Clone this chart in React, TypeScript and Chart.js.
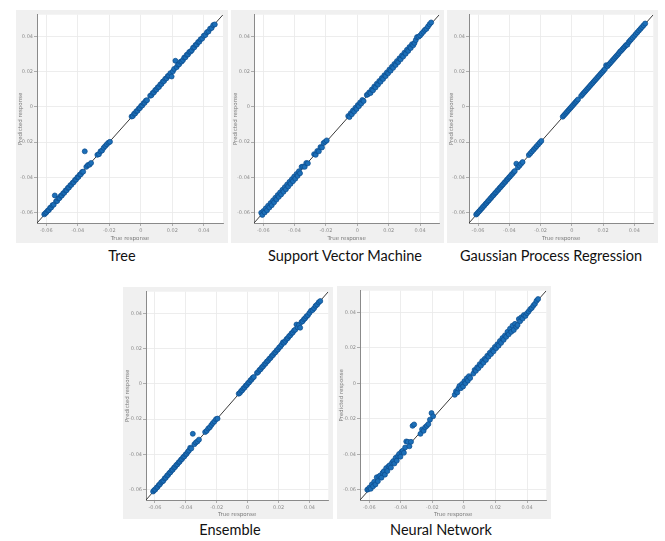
import React, { useEffect, useRef } from "react";
import { Chart, registerables } from "chart.js";
Chart.register(...registerables);

// ---------- data ----------
const TRUE_RESPONSE = [
  -0.0612,-0.0605,-0.0598,-0.0590,-0.0583,-0.0575,-0.0568,-0.0560,-0.0552,-0.0545,
  -0.0537,-0.0530,-0.0522,-0.0515,-0.0507,-0.0500,-0.0492,-0.0485,-0.0477,-0.0470,
  -0.0462,-0.0455,-0.0447,-0.0440,-0.0432,-0.0425,-0.0417,-0.0410,-0.0402,-0.0395,
  -0.0387,-0.0380,-0.0372,-0.0365,-0.0355,-0.0345,-0.0335,-0.0325,-0.0315,-0.0275,
  -0.0265,-0.0255,-0.0245,-0.0235,-0.0225,-0.0215,-0.0205,-0.0195,-0.0058,-0.0050,
  -0.0042,-0.0035,-0.0028,-0.0020,-0.0012,-0.0005,0.0003,0.0010,0.0018,0.0025,
  0.0032,0.0040,0.0060,0.0068,0.0076,0.0084,0.0092,0.0100,0.0108,0.0116,
  0.0124,0.0132,0.0140,0.0148,0.0156,0.0164,0.0172,0.0180,0.0188,0.0196,
  0.0204,0.0212,0.0220,0.0228,0.0236,0.0244,0.0252,0.0260,0.0268,0.0276,
  0.0284,0.0292,0.0300,0.0308,0.0316,0.0324,0.0332,0.0340,0.0348,0.0356,
  0.0364,0.0372,0.0380,0.0390,0.0400,0.0410,0.0420,0.0430,0.0440,0.0450,
  0.0460,0.0470,
];

const PRED_TREE = [
  -0.0609,-0.0603,-0.0597,-0.0588,-0.0585,-0.0572,-0.0570,-0.0557,-0.0554,-0.0502,
  -0.0535,-0.0533,-0.0519,-0.0517,-0.0504,-0.0502,-0.0490,-0.0487,-0.0474,-0.0472,
  -0.0459,-0.0457,-0.0444,-0.0442,-0.0430,-0.0427,-0.0414,-0.0412,-0.0399,-0.0397,
  -0.0384,-0.0382,-0.0369,-0.0367,-0.0252,-0.0340,-0.0330,-0.0328,-0.0318,-0.0272,
  -0.0268,-0.0252,-0.0247,-0.0232,-0.0222,-0.0212,-0.0203,-0.0198,-0.0055,-0.0052,
  -0.0039,-0.0037,-0.0025,-0.0022,-0.0009,-0.0007,0.0006,0.0008,0.0021,0.0023,
  0.0035,0.0038,0.0063,0.0066,0.0079,0.0082,0.0095,0.0098,0.0111,0.0113,
  0.0127,0.0130,0.0143,0.0146,0.0159,0.0162,0.0175,0.0177,0.0191,0.0172,
  0.0201,0.0215,0.0261,0.0225,0.0239,0.0241,0.0255,0.0257,0.0265,0.0279,
  0.0281,0.0295,0.0297,0.0311,0.0313,0.0320,0.0335,0.0337,0.0351,0.0353,
  0.0367,0.0369,0.0383,0.0387,0.0403,0.0407,0.0423,0.0427,0.0443,0.0447,
  0.0463,0.0467,
];

const PRED_SVM = [
  -0.0600,-0.0612,-0.0590,-0.0598,-0.0575,-0.0586,-0.0560,-0.0570,-0.0545,-0.0557,
  -0.0530,-0.0541,-0.0515,-0.0525,-0.0500,-0.0510,-0.0485,-0.0496,-0.0470,-0.0481,
  -0.0455,-0.0467,-0.0440,-0.0451,-0.0425,-0.0436,-0.0410,-0.0421,-0.0395,-0.0407,
  -0.0380,-0.0391,-0.0365,-0.0376,-0.0340,-0.0338,-0.0340,-0.0318,-0.0320,-0.0268,
  -0.0272,-0.0250,-0.0252,-0.0228,-0.0230,-0.0205,-0.0198,-0.0190,-0.0052,-0.0058,
  -0.0036,-0.0042,-0.0021,-0.0027,-0.0005,-0.0012,0.0010,0.0004,0.0025,0.0019,
  0.0039,0.0033,0.0067,0.0072,0.0082,0.0078,0.0098,0.0094,0.0115,0.0110,
  0.0131,0.0126,0.0147,0.0142,0.0163,0.0158,0.0179,0.0174,0.0195,0.0190,
  0.0211,0.0205,0.0227,0.0221,0.0243,0.0237,0.0259,0.0253,0.0275,0.0269,
  0.0291,0.0285,0.0307,0.0301,0.0323,0.0317,0.0339,0.0333,0.0355,0.0349,
  0.0362,0.0378,0.0395,0.0397,0.0404,0.0415,0.0425,0.0436,0.0442,0.0455,
  0.0468,0.0478,
];

const PRED_GPR = [
  -0.0610,-0.0604,-0.0596,-0.0589,-0.0581,-0.0574,-0.0566,-0.0559,-0.0550,-0.0544,
  -0.0535,-0.0529,-0.0520,-0.0514,-0.0505,-0.0499,-0.0490,-0.0484,-0.0475,-0.0469,
  -0.0460,-0.0454,-0.0445,-0.0439,-0.0430,-0.0424,-0.0415,-0.0409,-0.0400,-0.0394,
  -0.0385,-0.0379,-0.0370,-0.0364,-0.0322,-0.0343,-0.0333,-0.0323,-0.0313,-0.0273,
  -0.0263,-0.0253,-0.0243,-0.0233,-0.0223,-0.0213,-0.0203,-0.0193,-0.0056,-0.0048,
  -0.0040,-0.0033,-0.0026,-0.0018,-0.0010,-0.0003,0.0005,0.0012,0.0020,0.0027,
  0.0034,0.0042,0.0062,0.0070,0.0078,0.0086,0.0094,0.0102,0.0110,0.0118,
  0.0126,0.0134,0.0142,0.0150,0.0158,0.0166,0.0174,0.0182,0.0190,0.0198,
  0.0206,0.0214,0.0236,0.0230,0.0238,0.0246,0.0254,0.0262,0.0270,0.0278,
  0.0286,0.0294,0.0302,0.0312,0.0318,0.0326,0.0334,0.0342,0.0350,0.0352,
  0.0366,0.0374,0.0382,0.0392,0.0402,0.0412,0.0422,0.0432,0.0442,0.0452,
  0.0462,0.0472,
];

const PRED_ENSEMBLE = [
  -0.0610,-0.0602,-0.0599,-0.0588,-0.0584,-0.0573,-0.0569,-0.0558,-0.0553,-0.0548,
  -0.0535,-0.0532,-0.0520,-0.0516,-0.0505,-0.0501,-0.0490,-0.0486,-0.0475,-0.0471,
  -0.0460,-0.0456,-0.0445,-0.0441,-0.0430,-0.0426,-0.0415,-0.0411,-0.0400,-0.0396,
  -0.0385,-0.0378,-0.0362,-0.0366,-0.0283,-0.0342,-0.0332,-0.0326,-0.0316,-0.0273,
  -0.0266,-0.0253,-0.0246,-0.0233,-0.0222,-0.0213,-0.0200,-0.0197,-0.0056,-0.0051,
  -0.0040,-0.0036,-0.0026,-0.0021,-0.0010,-0.0006,0.0005,0.0009,0.0020,0.0024,
  0.0034,0.0039,0.0062,0.0067,0.0078,0.0083,0.0094,0.0099,0.0110,0.0115,
  0.0126,0.0131,0.0142,0.0147,0.0158,0.0163,0.0174,0.0179,0.0190,0.0195,
  0.0206,0.0211,0.0222,0.0235,0.0233,0.0243,0.0254,0.0259,0.0270,0.0275,
  0.0286,0.0291,0.0302,0.0307,0.0336,0.0320,0.0334,0.0318,0.0350,0.0355,
  0.0366,0.0371,0.0382,0.0389,0.0402,0.0414,0.0418,0.0428,0.0442,0.0449,
  0.0462,0.0469,
];

const PRED_NN = [
  -0.0600,-0.0596,-0.0588,-0.0595,-0.0570,-0.0581,-0.0555,-0.0570,-0.0530,-0.0552,
  -0.0525,-0.0520,-0.0532,-0.0505,-0.0496,-0.0515,-0.0478,-0.0495,-0.0468,-0.0462,
  -0.0475,-0.0448,-0.0438,-0.0452,-0.0420,-0.0436,-0.0410,-0.0398,-0.0414,-0.0386,
  -0.0380,-0.0392,-0.0362,-0.0328,-0.0330,-0.0355,-0.0330,-0.0240,-0.0232,-0.0285,
  -0.0260,-0.0268,-0.0248,-0.0240,-0.0230,-0.0205,-0.0168,-0.0186,-0.0065,-0.0045,
  -0.0052,-0.0030,-0.0015,-0.0028,-0.0004,-0.0018,0.0012,0.0000,0.0028,0.0015,
  0.0040,0.0030,0.0055,0.0075,0.0070,0.0090,0.0085,0.0108,0.0100,0.0125,
  0.0116,0.0138,0.0132,0.0155,0.0150,0.0172,0.0165,0.0188,0.0180,0.0205,
  0.0198,0.0220,0.0212,0.0238,0.0228,0.0255,0.0245,0.0270,0.0262,0.0290,
  0.0276,0.0308,0.0290,0.0325,0.0300,0.0335,0.0318,0.0328,0.0362,0.0350,
  0.0372,0.0365,0.0385,0.0380,0.0395,0.0405,0.0418,0.0425,0.0438,0.0448,
  0.0465,0.0475,
];

const AXIS_LIMITS = [-0.0658, 0.0522];
const TICK_VALUES = [-0.06, -0.04, -0.02, 0, 0.02, 0.04];
const TICK_LABELS = ["-0.06", "-0.04", "-0.02", "0", "0.02", "0.04"];
const X_TITLE = "True response";
const Y_TITLE = "Predicted response";
const MODEL_NAMES = ["Tree", "Support Vector Machine", "Gaussian Process Regression", "Ensemble", "Neural Network"];
const MODEL_PREDICTIONS = [PRED_TREE, PRED_SVM, PRED_GPR, PRED_ENSEMBLE, PRED_NN];

// ---------- layout ----------
type Layout = {
  left: number; top: number; width: number; height: number;
  yw: number; xh: number; padTop: number; padRight: number;
  capX: number; capY: number;
};
const LAYOUTS: Layout[] = [
  { left: 16, top: 10, width: 212, height: 233, yw: 21, xh: 20, padTop: 2, padRight: 5, capX: 122, capY: 256 },
  { left: 231, top: 10, width: 213, height: 233, yw: 23, xh: 20, padTop: 2, padRight: 3, capX: 345, capY: 256 },
  { left: 447, top: 10, width: 211, height: 233, yw: 22, xh: 20, padTop: 2, padRight: 3, capX: 551, capY: 256 },
  { left: 123, top: 287, width: 210, height: 232, yw: 23, xh: 19, padTop: 2, padRight: 3, capX: 230, capY: 530 },
  { left: 337, top: 286, width: 214, height: 233, yw: 23, xh: 19, padTop: 2, padRight: 4, capX: 441, capY: 530 },
];

const plotBackground = {
  id: "plotBackground",
  beforeDraw(chart: any) {
    const { ctx, chartArea: a } = chart;
    ctx.save();
    ctx.fillStyle = "#ffffff";
    ctx.fillRect(a.left, a.top, a.right - a.left, a.bottom - a.top);
    ctx.restore();
  },
};

function axisOptions(isX: boolean, layout: Layout) {
  return {
    type: "linear" as const,
    min: AXIS_LIMITS[0],
    max: AXIS_LIMITS[1],
    afterBuildTicks: (s: any) => {
      s.ticks = TICK_VALUES.map((value) => ({ value }));
    },
    afterFit: (s: any) => {
      if (isX) s.height = layout.xh;
      else s.width = layout.yw;
    },
    ticks: {
      autoSkip: false,
      maxRotation: 0,
      padding: isX ? 2 : 1,
      color: "#8c8c8c",
      font: { size: 5, family: "DejaVu Sans" },
      callback: (_v: any, i: number) => TICK_LABELS[i],
    },
    grid: { color: "#e9e9e9", tickLength: 3, tickColor: "#9a9a9a", lineWidth: 0.8 },
    border: { color: "#8a8a8a", width: 1 },
    title: {
      display: true,
      text: isX ? X_TITLE : Y_TITLE,
      color: "#7a7a7a",
      font: { size: 5.5, family: "DejaVu Sans" },
      padding: isX ? { top: 0, bottom: 1 } : { top: 1, bottom: 0 },
    },
  };
}

function Panel({ pred, name, layout }: { pred: number[]; name: string; layout: Layout }) {
  const ref = useRef<HTMLCanvasElement>(null);
  useEffect(() => {
    if (!ref.current) return;
    const points = TRUE_RESPONSE.map((x, i) => ({ x, y: pred[i] }));
    const diagonal = AXIS_LIMITS.map((v) => ({ x: v, y: v }));
    const chart = new Chart(ref.current, {
      type: "scatter",
      data: {
        datasets: [
          {
            data: points,
            pointRadius: 2.5,
            pointBackgroundColor: "#1c6fb8",
            pointBorderColor: "#0b4c8c",
            pointBorderWidth: 0.7,
            order: 1,
          },
          {
            type: "line",
            data: diagonal,
            borderColor: "#3a3a3a",
            borderWidth: 1,
            pointRadius: 0,
            showLine: true,
            order: 2,
          } as any,
        ],
      },
      options: {
        animation: false,
        responsive: false,
        devicePixelRatio: 1,
        layout: { padding: { top: layout.padTop, right: layout.padRight, left: 0, bottom: 0 } },
        plugins: { legend: { display: false }, tooltip: { enabled: false } },
        scales: { x: axisOptions(true, layout), y: axisOptions(false, layout) } as any,
      },
      plugins: [plotBackground],
    });
    return () => chart.destroy();
  }, [pred, layout]);

  return (
    <>
      <div
        style={{
          position: "absolute",
          left: layout.left,
          top: layout.top,
          width: layout.width,
          height: layout.height,
          background: "#f0f0f0",
        }}
      >
        <canvas ref={ref} width={layout.width} height={layout.height} style={{ display: "block" }} />
      </div>
      <div
        style={{
          position: "absolute",
          left: layout.capX - 150,
          width: 300,
          top: layout.capY - 10,
          height: 20,
          lineHeight: "20px",
          textAlign: "center",
          fontFamily: "Lato, 'Noto Sans', sans-serif",
          fontSize: 14.5,
          color: "#111",
        }}
      >
        {name}
      </div>
    </>
  );
}

export default function App() {
  return (
    <div
      style={{
        position: "absolute",
        left: 0,
        top: 0,
        width: 665,
        height: 541,
        background: "#ffffff",
        overflow: "hidden",
      }}
    >
      {MODEL_NAMES.map((name, i) => (
        <Panel key={name} name={name} pred={MODEL_PREDICTIONS[i]} layout={LAYOUTS[i]} />
      ))}
    </div>
  );
}
